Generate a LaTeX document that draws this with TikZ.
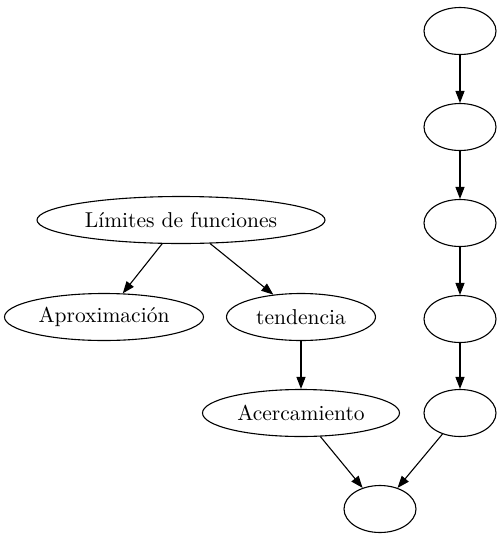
\documentclass[tikz,border=0pt]{standalone}
\usepackage{fontspec}
\setmainfont{lmroman10-regular.otf}
\usetikzlibrary{shapes.geometric,arrows.meta}
\begin{document}
\begin{tikzpicture}[x=1pt,y=-1pt,
  nd/.style={draw,ellipse,line width=1.1pt,inner sep=0pt,minimum height=47pt,font=\fontsize{21.5}{25}\selectfont},
  ed/.style={line width=1.1pt,-{Triangle[length=12pt,width=9pt]}}]
\useasboundingbox (0,0) rectangle (501,539);
\node[nd,minimum width=72pt] (r1) at (460,31) {};
\node[nd,minimum width=72pt] (r2) at (460,127) {};
\node[nd,minimum width=72pt] (r3) at (460,223) {};
\node[nd,minimum width=72pt] (r4) at (460,319) {};
\node[nd,minimum width=72pt] (r5) at (460,413) {};
\node[nd,minimum width=72pt] (b) at (380,509) {};
\node[nd,minimum width=288pt] (lim) at (181,220) {Límites de funciones};
\node[nd,minimum width=199pt] (apr) at (104,317) {Aproximación};
\node[nd,minimum width=149pt] (ten) at (301,317) {tendencia};
\node[nd,minimum width=197pt] (ace) at (301,413) {Acercamiento};
\draw[ed] (r1) -- (r2);
\draw[ed] (r2) -- (r3);
\draw[ed] (r3) -- (r4);
\draw[ed] (r4) -- (r5);
\draw[ed] (r5) -- (b);
\draw[ed] (ace) -- (b);
\draw[ed] (ten) -- (ace);
\draw[ed] (lim) -- (apr);
\draw[ed] (lim) -- (ten);
\end{tikzpicture}
\end{document}
